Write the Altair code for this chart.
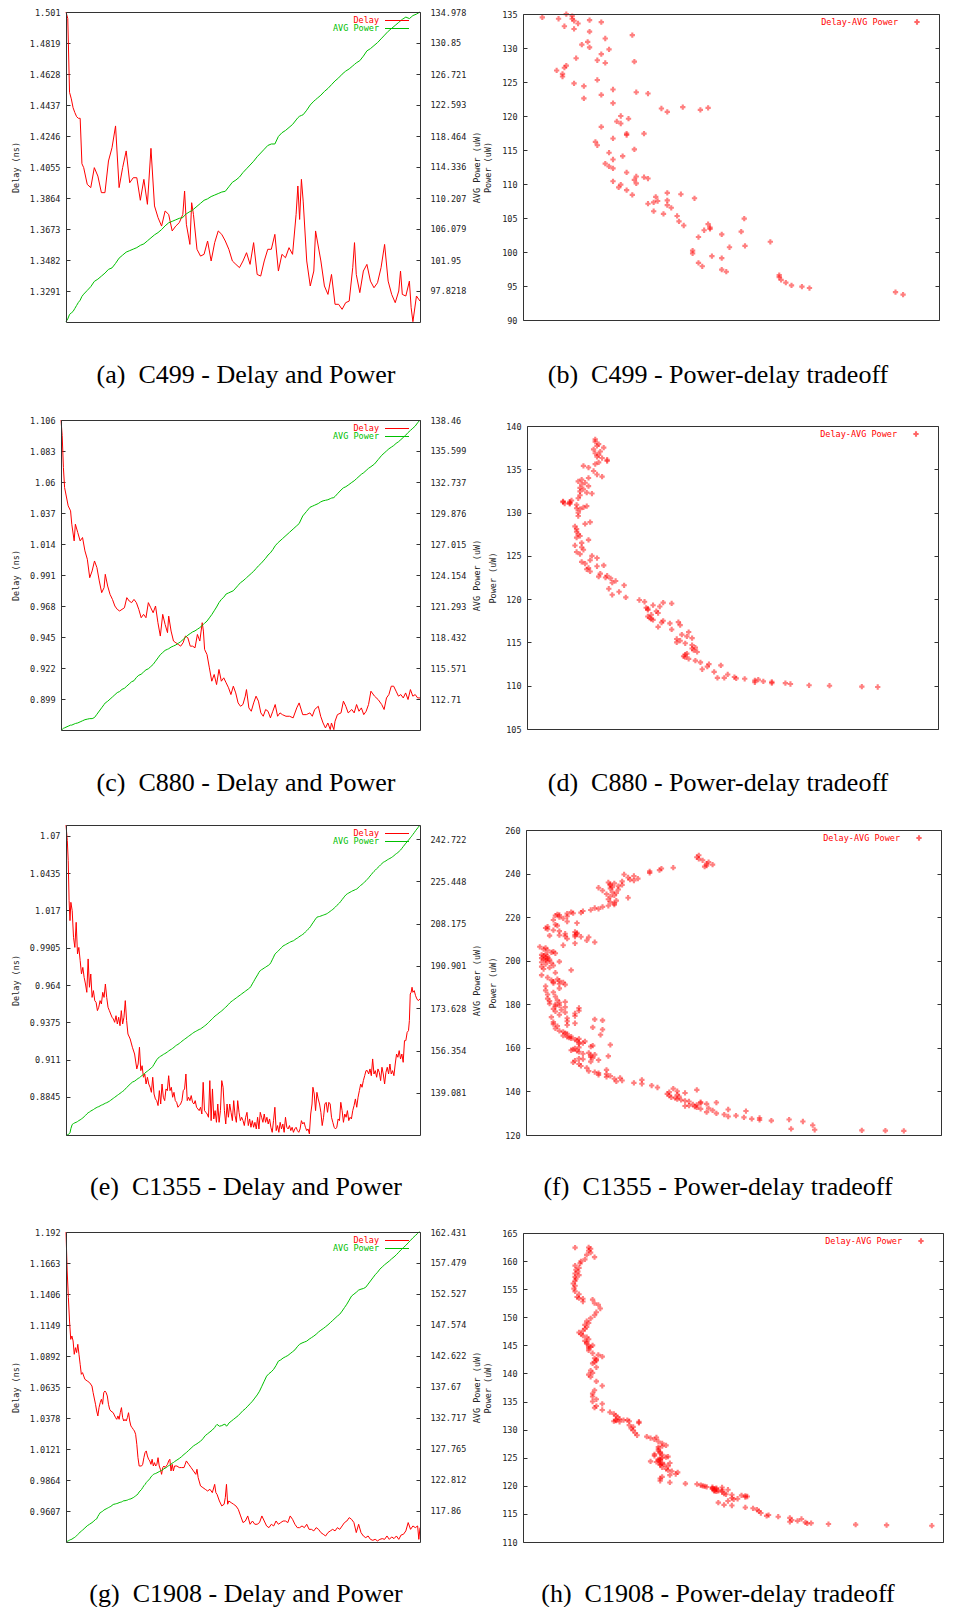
import altair as alt
import pandas as pd

# ---------------- values ----------------
# (a)/(b) C499
A_IT = [0, 1, 2, 3, 4, 5, 6, 7, 8, 9,
        10, 12, 14, 16, 18, 20, 22, 24, 26, 28,
        30, 32, 34, 36, 38, 40, 42, 44, 46, 48,
        50, 52, 54, 56, 58, 60, 62, 64, 66, 67,
        68, 70, 71, 72, 74, 76, 78, 80, 82, 84,
        86, 88, 90, 92, 94, 96, 98, 100, 102, 104,
        106, 108, 110, 112, 114, 116, 118, 120, 122, 124,
        126, 128, 130, 131, 132, 133, 134, 136, 138, 140,
        141, 142, 144, 146, 148, 150, 152, 154, 156, 158,
        160, 162, 163, 164, 166, 168, 170, 172, 174, 176,
        178, 180, 182, 184, 186, 188, 189, 190, 192, 194,
        195, 196, 198, 200]
A_DELAY = [1.5010, 1.4970, 1.4515, 1.4475, 1.4420, 1.4390, 1.4365, 1.4355, 1.4355, 1.4075,
           1.4051, 1.3948, 1.3928, 1.4051, 1.3999, 1.3897, 1.3897, 1.4092, 1.4174, 1.4308,
           1.3928, 1.4051, 1.4154, 1.3958, 1.3989, 1.3989, 1.3850, 1.3979, 1.3825, 1.4170,
           1.3815, 1.3743, 1.3691, 1.3784, 1.3763, 1.3661, 1.3691, 1.3712, 1.3763, 1.3907,
           1.3702, 1.3578, 1.3835, 1.3763, 1.3548, 1.3506, 1.3517, 1.3599, 1.3476, 1.3589,
           1.3661, 1.3640, 1.3599, 1.3548, 1.3476, 1.3455, 1.3435, 1.3476, 1.3527, 1.3455,
           1.3589, 1.3393, 1.3383, 1.3476, 1.3548, 1.3548, 1.3640, 1.3414, 1.3517, 1.3496,
           1.3558, 1.3517, 1.3763, 1.3938, 1.3732, 1.3979, 1.3845, 1.3476, 1.3322, 1.3414,
           1.3661, 1.3599, 1.3476, 1.3322, 1.3270, 1.3393, 1.3209, 1.3209, 1.3178, 1.3219,
           1.3229, 1.3435, 1.3589, 1.3393, 1.3281, 1.3414, 1.3455, 1.3352, 1.3311, 1.3342,
           1.3435, 1.3578, 1.3352, 1.3270, 1.3219, 1.3291, 1.3414, 1.3270, 1.3260, 1.3352,
           1.3188, 1.3102, 1.3260, 1.3229]
A_POWER = [93.74, 94.1, 94.7, 94.9, 95.1, 95.5, 95.9, 96.3, 96.6, 97.1,
           97.4, 97.9, 98.4, 99.1, 99.4, 99.8, 100.2, 100.7, 100.9, 101.5,
           102.2, 102.6, 103.0, 103.2, 103.4, 103.6, 103.9, 104.1, 104.5, 104.9,
           105.3, 105.6, 106.0, 106.5, 106.9, 107.1, 107.3, 107.5, 107.6, 107.9,
           108.1, 108.4, 108.5, 108.7, 109.1, 109.5, 109.9, 110.1, 110.4, 110.6,
           110.8, 111.0, 111.1, 111.7, 112.3, 112.6, 113.0, 113.6, 114.1, 114.6,
           115.1, 115.7, 116.2, 116.7, 117.2, 117.4, 117.4, 118.4, 118.9, 119.2,
           119.6, 120.0, 120.6, 120.9, 121.1, 121.2, 121.3, 121.9, 122.6, 123.1,
           123.3, 123.5, 123.9, 124.4, 124.8, 125.3, 125.8, 126.2, 126.7, 127.1,
           127.4, 127.8, 128.0, 128.2, 128.5, 129.1, 129.8, 130.1, 130.5, 130.9,
           131.4, 131.9, 132.4, 132.8, 133.2, 133.6, 133.8, 134.0, 134.3, 134.1,
           134.3, 134.5, 134.7, 134.98]

# (c)/(d) C880
C_IT = [0, 1, 2, 3, 6, 8, 9, 11, 12, 14,
        16, 18, 20, 22, 24, 26, 28, 30, 32, 34,
        36, 37, 39, 41, 43, 45, 47, 49, 51, 53,
        55, 57, 59, 61, 63, 65, 67, 69, 71, 73,
        75, 77, 79, 81, 83, 85, 87, 89, 90, 92,
        94, 96, 98, 100, 102, 104, 106, 108, 110, 112,
        114, 116, 118, 119, 120, 122, 124, 126, 128, 130,
        132, 134, 136, 138, 140, 142, 144, 146, 148, 150,
        152, 154, 155, 157, 159, 161, 163, 165, 167, 169,
        171, 173, 175, 177, 179, 181, 183, 185, 188, 191,
        194, 197, 199, 202, 205, 208, 210, 212, 215, 217,
        219, 221, 223, 225, 226, 228, 229, 231, 234, 236,
        238, 240, 243, 245, 247, 249, 251, 253, 255, 257,
        259, 262, 265, 268, 270, 272, 274, 276, 278, 280,
        282, 284, 286, 288, 290, 292, 294, 296, 298, 300]
C_DELAY = [1.1060, 1.0944, 1.0708, 1.0559, 1.0423, 1.0386, 1.0287, 1.0163, 1.0287, 1.0225,
           1.0163, 1.0188, 1.0089, 1.0027, 0.9890, 0.9940, 1.0014, 0.9965, 0.9866, 0.9779,
           0.9816, 0.9915, 0.9828, 0.9766, 0.9729, 0.9680, 0.9655, 0.9643, 0.9655, 0.9667,
           0.9742, 0.9717, 0.9705, 0.9729, 0.9705, 0.9655, 0.9593, 0.9618, 0.9593, 0.9705,
           0.9667, 0.9630, 0.9680, 0.9556, 0.9457, 0.9618, 0.9543, 0.9482, 0.9605, 0.9494,
           0.9420, 0.9407, 0.9395, 0.9382, 0.9407, 0.9457, 0.9444, 0.9382, 0.9382, 0.9370,
           0.9469, 0.9420, 0.9556, 0.9494, 0.9358, 0.9320, 0.9221, 0.9122, 0.9172, 0.9097,
           0.9209, 0.9122, 0.9147, 0.9110, 0.9073, 0.9023, 0.9085, 0.9035, 0.8961, 0.8936,
           0.8949, 0.9011, 0.9060, 0.8924, 0.8899, 0.8961, 0.9011, 0.8974, 0.8887, 0.8862,
           0.8912, 0.8899, 0.8850, 0.8899, 0.8949, 0.8862, 0.8887, 0.8874, 0.8862, 0.8862,
           0.8850, 0.8924, 0.8961, 0.8874, 0.8874, 0.8887, 0.8862, 0.8912, 0.8936, 0.8862,
           0.8812, 0.8775, 0.8812, 0.8763, 0.8812, 0.8763, 0.8825, 0.8874, 0.8887, 0.8974,
           0.8936, 0.8887, 0.8912, 0.8887, 0.8949, 0.8899, 0.8924, 0.8874, 0.8899, 0.8949,
           0.9048, 0.9011, 0.8986, 0.8949, 0.8912, 0.8998, 0.9023, 0.9085, 0.9085, 0.9048,
           0.9011, 0.9023, 0.8998, 0.9035, 0.8986, 0.9060, 0.9011, 0.9023, 0.8998, 0.8998]
C_POWER = [109.85, 109.9, 110.0, 110.05, 110.2, 110.3, 110.3, 110.4, 110.45, 110.5,
           110.6, 110.7, 110.8, 110.85, 110.9, 110.9, 111.0, 111.3, 111.6, 111.9,
           112.2, 112.35, 112.5, 112.7, 112.9, 113.1, 113.3, 113.4, 113.6, 113.7,
           113.9, 114.1, 114.3, 114.4, 114.7, 114.9, 115.0, 115.2, 115.4, 115.5,
           115.7, 115.9, 116.2, 116.5, 116.8, 117.0, 117.2, 117.3, 117.35, 117.5,
           117.6, 117.7, 117.85, 118.0, 118.2, 118.4, 118.6, 118.75, 118.9, 119.0,
           119.15, 119.3, 119.5, 119.6, 119.7, 119.9, 120.2, 120.5, 120.85, 121.2,
           121.6, 121.9, 122.1, 122.4, 122.5, 122.6, 122.7, 122.95, 123.2, 123.45,
           123.6, 123.8, 123.9, 124.1, 124.3, 124.5, 124.75, 125.0, 125.2, 125.45,
           125.7, 126.0, 126.2, 126.5, 126.85, 127.1, 127.3, 127.5, 127.8, 128.1,
           128.4, 128.7, 128.9, 129.6, 130.0, 130.4, 130.5, 130.6, 130.75, 130.9,
           131.0, 131.05, 131.1, 131.2, 131.25, 131.3, 131.4, 131.65, 132.0, 132.2,
           132.3, 132.45, 132.7, 132.85, 133.05, 133.25, 133.45, 133.6, 133.8, 134.0,
           134.15, 134.4, 134.8, 135.2, 135.4, 135.6, 135.8, 135.95, 136.1, 136.3,
           136.45, 136.65, 136.85, 137.05, 137.3, 137.5, 137.7, 137.9, 138.2, 138.46]

# (e)/(f) C1355
E_IT = [0, 3, 5, 7, 9, 11, 14, 17, 20, 23,
        26, 29, 32, 35, 38, 41, 44, 47, 50, 53,
        56, 59, 62, 65, 68, 71, 74, 77, 80, 83,
        86, 89, 92, 95, 98, 101, 104, 107, 110, 113,
        116, 119, 122, 125, 128, 131, 134, 137, 140, 145,
        150, 155, 160, 163, 166, 169, 172, 175, 178, 181,
        184, 187, 190, 193, 196, 199, 202, 205, 208, 211,
        214, 217, 220, 223, 226, 229, 232, 235, 238, 241,
        244, 247, 250, 253, 256, 259, 262, 265, 268, 271,
        274, 277, 280, 283, 286, 289, 292, 295, 298, 301,
        304, 307, 310, 313, 316, 319, 322, 325, 328, 331,
        334, 337, 340, 343, 346, 349, 352, 355, 358, 361,
        364, 367, 370, 373, 376, 379, 382, 385, 388, 391,
        394, 397, 400, 403, 406, 409, 412, 415, 418, 421,
        424, 427, 430, 433, 436, 439, 442, 445, 448, 451,
        454, 457, 460, 463, 466, 469, 472, 475, 478, 481,
        484, 487, 490, 493, 496, 499, 502, 505, 508, 511,
        514, 517, 520, 523, 526, 529, 532, 535, 538, 541,
        544, 547, 550, 553, 556, 558, 561, 564, 567, 570,
        573, 576, 579, 582, 585, 588, 591, 594, 597, 600,
        603, 606, 609, 612, 615, 618, 621, 624, 627, 630,
        633, 636, 639, 642, 645, 648, 651, 654, 657, 660,
        663, 666, 669, 672, 675, 678, 681, 684, 687, 690,
        693, 696, 699, 702, 705, 708, 711, 714, 717, 720,
        723, 726, 729, 732, 735, 738, 741, 744, 747, 750,
        753, 756, 759, 762, 765, 768, 771, 774, 776, 778,
        780, 782, 784, 787, 790, 793, 796, 800]
E_DELAY = [1.0776, 1.0665, 1.0523, 1.0239, 1.0097, 1.0227, 1.0168, 0.9978, 0.9907, 1.0085,
           0.9860, 0.9907, 0.9813, 0.9718, 0.9765, 0.9694, 0.9647, 0.9588, 0.9825, 0.9624,
           0.9718, 0.9552, 0.9600, 0.9529, 0.9517, 0.9458, 0.9482, 0.9529, 0.9505, 0.9588,
           0.9552, 0.9647, 0.9552, 0.9482, 0.9458, 0.9434, 0.9411, 0.9399, 0.9375, 0.9422,
           0.9363, 0.9411, 0.9351, 0.9458, 0.9363, 0.9411, 0.9529, 0.9387, 0.9292, 0.9257,
           0.9198, 0.9150, 0.9044, 0.9079, 0.9198, 0.9032, 0.9067, 0.8985, 0.9008, 0.8937,
           0.8985, 0.8937, 0.8914, 0.8878, 0.8985, 0.8866, 0.8831, 0.8819, 0.8784, 0.8890,
           0.8795, 0.8937, 0.8843, 0.8819, 0.8902, 0.8890, 0.8996, 0.8890, 0.8914, 0.8843,
           0.8878, 0.8819, 0.8807, 0.8772, 0.8784, 0.8795, 0.8819, 0.8890, 0.8902, 0.9008,
           0.8819, 0.8843, 0.8819, 0.8855, 0.8807, 0.8795, 0.8819, 0.8772, 0.8760, 0.8748,
           0.8772, 0.8724, 0.8949, 0.8748, 0.8736, 0.8724, 0.8701, 0.8961, 0.8677, 0.8902,
           0.8689, 0.8748, 0.8665, 0.8795, 0.8665, 0.8748, 0.8961, 0.8914, 0.8748, 0.8653,
           0.8795, 0.8701, 0.8795, 0.8736, 0.8677, 0.8819, 0.8713, 0.8665, 0.8819, 0.8736,
           0.8677, 0.8701, 0.8677, 0.8642, 0.8701, 0.8736, 0.8642, 0.8689, 0.8630, 0.8677,
           0.8630, 0.8665, 0.8618, 0.8701, 0.8618, 0.8736, 0.8701, 0.8665, 0.8724, 0.8665,
           0.8701, 0.8653, 0.8689, 0.8630, 0.8594, 0.8677, 0.8772, 0.8606, 0.8642, 0.8594,
           0.8665, 0.8618, 0.8653, 0.8594, 0.8701, 0.8630, 0.8618, 0.8642, 0.8606, 0.8630,
           0.8594, 0.8618, 0.8630, 0.8606, 0.8594, 0.8618, 0.8677, 0.8653, 0.8665, 0.8630,
           0.8606, 0.8618, 0.8583, 0.8724, 0.8795, 0.8914, 0.8866, 0.8748, 0.8878, 0.8831,
           0.8795, 0.8736, 0.8642, 0.8701, 0.8795, 0.8807, 0.8736, 0.8807, 0.8795, 0.8701,
           0.8665, 0.8630, 0.8618, 0.8630, 0.8689, 0.8677, 0.8807, 0.8748, 0.8665, 0.8724,
           0.8701, 0.8748, 0.8677, 0.8701, 0.8689, 0.8748, 0.8784, 0.8831, 0.8772, 0.8843,
           0.8890, 0.8937, 0.8914, 0.8961, 0.8996, 0.9032, 0.9032, 0.9008, 0.9044, 0.8996,
           0.9115, 0.9008, 0.9032, 0.8985, 0.9044, 0.9020, 0.8961, 0.9056, 0.9008, 0.8937,
           0.9020, 0.9056, 0.9008, 0.9079, 0.9008, 0.9032, 0.8996, 0.9079, 0.9150, 0.9127,
           0.9174, 0.9115, 0.9150, 0.9091, 0.9245, 0.9245, 0.9304, 0.9316, 0.9387, 0.9576,
           0.9588, 0.9624, 0.9588, 0.9600, 0.9564, 0.9541, 0.9529, 0.9541]
E_POWER = [121.9, 122.0, 122.1, 122.4, 122.8, 124.5, 126.2, 126.6, 126.9, 127.1,
           127.4, 127.8, 128.1, 128.5, 128.9, 129.4, 129.9, 130.5, 131.0, 131.3,
           131.7, 132.0, 132.3, 132.7, 133.0, 133.3, 133.5, 133.8, 134.1, 134.3,
           134.6, 134.9, 135.1, 135.4, 135.7, 136.1, 136.5, 136.9, 137.3, 137.7,
           138.1, 138.5, 138.9, 139.3, 139.7, 140.1, 140.7, 141.3, 141.8, 142.7,
           143.5, 143.9, 144.6, 145.0, 145.3, 145.8, 146.2, 146.7, 147.1, 147.6,
           148.0, 148.4, 148.9, 149.3, 149.9, 150.8, 151.7, 152.6, 153.3, 153.7,
           154.1, 154.4, 154.8, 155.1, 155.4, 155.8, 156.2, 156.6, 156.9, 157.3,
           157.7, 158.2, 158.6, 158.9, 159.3, 159.7, 160.2, 160.6, 161.0, 161.4,
           161.8, 162.2, 162.6, 163.0, 163.4, 163.8, 164.1, 164.4, 164.7, 165.0,
           165.2, 165.6, 166.0, 166.4, 166.8, 167.3, 167.8, 168.4, 168.9, 169.4,
           170.0, 170.5, 170.9, 171.3, 171.8, 172.2, 172.6, 173.1, 173.6, 174.1,
           174.6, 175.2, 175.8, 176.3, 176.7, 177.1, 177.5, 177.9, 178.3, 178.7,
           179.1, 179.5, 179.9, 180.3, 180.7, 181.1, 181.5, 181.9, 182.6, 183.6,
           184.5, 185.5, 186.4, 187.3, 188.3, 189.0, 189.4, 189.7, 190.1, 190.4,
           190.8, 191.1, 191.5, 192.3, 193.4, 194.5, 195.7, 196.2, 196.8, 197.3,
           197.8, 198.4, 199.0, 199.3, 199.6, 199.9, 200.2, 200.5, 200.8, 201.0,
           201.2, 201.6, 202.0, 202.3, 202.7, 203.1, 203.4, 203.8, 204.2, 204.8,
           205.3, 205.9, 206.4, 207.1, 208.0, 208.5, 209.3, 210.1, 210.8, 211.0,
           211.1, 211.3, 211.5, 211.7, 211.9, 212.1, 212.4, 212.8, 213.2, 213.6,
           214.0, 214.5, 215.0, 215.6, 216.1, 216.6, 217.3, 218.0, 218.7, 219.4,
           220.0, 220.4, 220.7, 221.0, 221.3, 221.6, 221.8, 222.1, 222.3, 222.8,
           223.3, 223.8, 224.2, 224.7, 225.2, 225.7, 226.3, 226.9, 227.6, 228.2,
           228.9, 229.5, 230.0, 230.6, 231.1, 231.6, 232.2, 232.7, 233.2, 233.5,
           233.8, 234.2, 234.5, 234.8, 235.1, 235.5, 235.9, 236.4, 236.8, 237.2,
           237.7, 238.2, 238.9, 239.6, 240.3, 241.0, 241.6, 242.3, 242.7, 243.2,
           243.6, 244.1, 244.6, 245.3, 246.1, 246.8, 247.5, 248.4]

# (g)/(h) C1908
G_IT = [0, 1, 2, 3, 4, 5, 6, 7, 8, 9,
        10, 11, 12, 13, 14, 16, 18, 20, 22, 23,
        25, 26, 27, 28, 29, 30, 31, 32, 33, 34,
        35, 36, 37, 38, 40, 42, 43, 44, 45, 46,
        47, 48, 49, 50, 51, 52, 53, 54, 55, 56,
        57, 58, 59, 60, 61, 62, 64, 65, 66, 67,
        68, 69, 70, 71, 72, 73, 74, 75, 76, 77,
        78, 79, 80, 81, 82, 83, 84, 85, 86, 87,
        88, 89, 90, 91, 92, 94, 96, 98, 100, 101,
        102, 104, 106, 108, 110, 111, 112, 114, 116, 118,
        120, 122, 124, 126, 127, 128, 130, 132, 134, 135,
        136, 137, 138, 140, 142, 144, 146, 148, 150, 152,
        154, 156, 158, 160, 162, 164, 166, 168, 170, 172,
        174, 176, 178, 180, 182, 184, 186, 188, 190, 192,
        194, 196, 198, 200, 202, 204, 206, 208, 210, 212,
        214, 216, 218, 220, 222, 224, 226, 228, 230, 232,
        234, 236, 238, 240, 242, 244, 246, 248, 250, 252,
        254, 256, 258, 260, 262, 264, 266, 268, 270, 272,
        274, 276, 278, 280, 282, 284, 286, 288, 290, 292,
        294, 296, 298, 299, 300]
G_DELAY = [1.1920, 1.1597, 1.1376, 1.1182, 1.1030, 1.1058, 1.1017, 1.0906, 1.0961, 1.0920,
           1.0989, 1.0906, 1.0823, 1.0740, 1.0754, 1.0699, 1.0685, 1.0671, 1.0643, 1.0588,
           1.0492, 1.0436, 1.0395, 1.0464, 1.0505, 1.0533, 1.0492, 1.0588, 1.0602, 1.0588,
           1.0561, 1.0492, 1.0450, 1.0436, 1.0422, 1.0381, 1.0367, 1.0395, 1.0367, 1.0422,
           1.0464, 1.0381, 1.0353, 1.0367, 1.0353, 1.0381, 1.0422, 1.0353, 1.0312, 1.0298,
           1.0284, 1.0270, 1.0243, 1.0160, 1.0049, 0.9980, 0.9980, 0.9994, 1.0049, 1.0091,
           1.0105, 1.0063, 1.0036, 1.0022, 0.9994, 1.0036, 0.9980, 1.0008, 0.9980, 0.9994,
           1.0049, 0.9980, 0.9953, 0.9911, 0.9967, 0.9980, 0.9967, 0.9980, 0.9994, 1.0022,
           1.0036, 0.9939, 0.9994, 0.9939, 0.9980, 0.9980, 0.9967, 0.9967, 0.9967, 0.9994,
           1.0022, 0.9994, 0.9967, 0.9939, 0.9911, 0.9953, 0.9884, 0.9815, 0.9801, 0.9787,
           0.9773, 0.9787, 0.9759, 0.9828, 0.9759, 0.9745, 0.9690, 0.9649, 0.9663, 0.9718,
           0.9828, 0.9663, 0.9690, 0.9676, 0.9663, 0.9649, 0.9621, 0.9566, 0.9511, 0.9524,
           0.9566, 0.9497, 0.9524, 0.9497, 0.9497, 0.9511, 0.9566, 0.9524, 0.9483, 0.9469,
           0.9497, 0.9483, 0.9524, 0.9497, 0.9511, 0.9524, 0.9524, 0.9511, 0.9566, 0.9538,
           0.9497, 0.9469, 0.9469, 0.9483, 0.9469, 0.9497, 0.9455, 0.9455, 0.9442, 0.9469,
           0.9455, 0.9428, 0.9414, 0.9400, 0.9428, 0.9442, 0.9455, 0.9442, 0.9469, 0.9455,
           0.9483, 0.9511, 0.9524, 0.9552, 0.9538, 0.9511, 0.9428, 0.9497, 0.9428, 0.9400,
           0.9386, 0.9400, 0.9372, 0.9364, 0.9372, 0.9359, 0.9372, 0.9378, 0.9372, 0.9400,
           0.9372, 0.9392, 0.9378, 0.9400, 0.9372, 0.9408, 0.9414, 0.9442, 0.9511, 0.9455,
           0.9483, 0.9469, 0.9483, 0.9372, 0.9469]
G_POWER = [112.9, 113.0, 113.1, 113.2, 113.3, 113.35, 113.5, 113.6, 113.75, 113.9,
           114.1, 114.3, 114.5, 114.65, 114.8, 115.15, 115.5, 115.75, 116.0, 116.15,
           116.5, 116.6, 117.0, 117.3, 117.6, 117.7, 117.8, 118.0, 118.1, 118.2,
           118.3, 118.4, 118.5, 118.6, 118.9, 119.0, 119.05, 119.1, 119.2, 119.25,
           119.3, 119.4, 119.5, 119.5, 119.55, 119.6, 119.7, 119.75, 119.8, 119.9,
           120.0, 120.1, 120.3, 120.4, 120.6, 120.9, 121.3, 121.6, 121.9, 122.1,
           122.4, 122.6, 122.8, 123.0, 123.3, 123.5, 123.7, 123.8, 123.85, 123.95,
           124.05, 124.15, 124.25, 124.35, 124.45, 124.6, 124.7, 124.8, 124.95, 125.1,
           125.2, 125.35, 125.5, 125.6, 125.75, 126.0, 126.25, 126.55, 126.9, 127.05,
           127.2, 127.55, 127.9, 128.25, 128.5, 128.6, 128.75, 129.0, 129.4, 129.9,
           130.2, 130.5, 130.8, 131.2, 131.5, 131.7, 131.4, 131.5, 131.7, 131.7,
           131.4, 131.6, 131.9, 132.2, 132.5, 132.8, 133.1, 133.5, 133.9, 134.2,
           134.6, 135.0, 135.4, 135.9, 136.4, 137.0, 137.8, 138.6, 139.4, 139.8,
           140.1, 140.5, 141.1, 141.8, 142.0, 142.3, 142.5, 142.7, 143.0, 143.3,
           143.6, 144.1, 144.5, 144.7, 144.85, 145.0, 145.3, 145.55, 145.8, 146.1,
           146.45, 146.75, 147.0, 147.3, 147.6, 147.95, 148.3, 148.65, 149.0, 149.3,
           149.8, 150.35, 150.9, 151.55, 152.2, 152.5, 152.8, 153.15, 153.3, 153.4,
           153.6, 154.1, 154.6, 155.1, 155.6, 156.0, 156.5, 156.85, 157.2, 157.5,
           157.8, 158.15, 158.45, 158.8, 159.2, 159.6, 159.95, 160.3, 160.7, 161.1,
           161.5, 161.85, 162.2, 162.4, 162.43]

# axis domains and tick labels
A_X_DOM, A_X_TICKS = [0, 200], [0, 20, 40, 60, 80, 100, 120, 140, 160, 180, 200]
A_D_DOM = [1.3100, 1.501]
A_D_TICKS = [1.501, 1.4819, 1.4628, 1.4437, 1.4246, 1.4055, 1.3864, 1.3673, 1.3482, 1.3291]
A_P_DOM = [93.693, 134.978]
A_P_TICKS = [134.978, 130.85, 126.721, 122.593, 118.464, 114.336, 110.207, 106.079, 101.95, 97.8218]

C_X_DOM, C_X_TICKS = [0, 300], [0, 50, 100, 150, 200, 250, 300]
C_D_DOM = [0.876, 1.106]
C_D_TICKS = [1.106, 1.083, 1.06, 1.037, 1.014, 0.991, 0.968, 0.945, 0.922, 0.899]
C_P_DOM = [109.849, 138.46]
C_P_TICKS = [138.46, 135.599, 132.737, 129.876, 127.015, 124.154, 121.293, 118.432, 115.571, 112.71]

E_X_DOM, E_X_TICKS = [0, 800], [0, 100, 200, 300, 400, 500, 600, 700, 800]
E_D_DOM = [0.8575, 1.0776]
E_D_TICKS = [1.07, 1.0435, 1.017, 0.9905, 0.964, 0.9375, 0.911, 0.8845]
E_P_DOM = [121.92, 248.44]
E_P_TICKS = [242.722, 225.448, 208.175, 190.901, 173.628, 156.354, 139.081]

G_X_DOM, G_X_TICKS = [0, 300], [0, 50, 100, 150, 200, 250, 300]
G_D_DOM = [0.935, 1.192]
G_D_TICKS = [1.192, 1.1663, 1.1406, 1.1149, 1.0892, 1.0635, 1.0378, 1.0121, 0.9864, 0.9607]
G_P_DOM = [112.907, 162.431]
G_P_TICKS = [162.431, 157.479, 152.527, 147.574, 142.622, 137.67, 132.717, 127.765, 122.812, 117.86]

B_X_DOM, B_X_TICKS = [1.3, 1.52], [1.3, 1.32, 1.34, 1.36, 1.38, 1.4, 1.42, 1.44, 1.46, 1.48, 1.5, 1.52]
B_Y_DOM, B_Y_TICKS = [90, 135], [90, 95, 100, 105, 110, 115, 120, 125, 130, 135]
D_X_DOM, D_X_TICKS = [0.85, 1.15], [0.85, 0.9, 0.95, 1, 1.05, 1.1, 1.15]
D_Y_DOM, D_Y_TICKS = [105, 140], [105, 110, 115, 120, 125, 130, 135, 140]
F_X_DOM, F_X_TICKS = [0.85, 1.1], [0.85, 0.9, 0.95, 1, 1.05, 1.1]
F_Y_DOM, F_Y_TICKS = [120, 260], [120, 140, 160, 180, 200, 220, 240, 260]
H_X_DOM, H_X_TICKS = [0.9, 1.2], [0.9, 0.95, 1, 1.05, 1.1, 1.15, 1.2]
H_Y_DOM, H_Y_TICKS = [110, 165], [110, 115, 120, 125, 130, 135, 140, 145, 150, 155, 160, 165]

CAPTIONS = ["(a)\u00a0\u00a0C499 - Delay and Power", "(b)\u00a0\u00a0C499 - Power-delay tradeoff",
            "(c)\u00a0\u00a0C880 - Delay and Power", "(d)\u00a0\u00a0C880 - Power-delay tradeoff",
            "(e)\u00a0\u00a0C1355 - Delay and Power", "(f)\u00a0\u00a0C1355 - Power-delay tradeoff",
            "(g)\u00a0\u00a0C1908 - Delay and Power", "(h)\u00a0\u00a0C1908 - Power-delay tradeoff"]
LEGEND_LINES = ["Delay", "AVG Power"]
LEGEND_SCATTER = ["Delay-AVG Power"]

# ---------------- layout / style ----------------
FONT = "DejaVu Sans Mono"
SERIF = "Liberation Serif"
FS = 8.5
NUM_FMT = ".6~g"
RED = "#ff0000"
GREEN = "#00c000"
INK = "#222222"
COL_X = [61, 523]
ROW_Y = [11, 418, 825, 1232]
CW, CH = 420, 311
PT_SIZE = 28


def one(col, val):
    return pd.DataFrame({col: [val]})


def text_layer(txt, x, y, color, font=FONT, size=FS, align="right", baseline="middle"):
    return alt.Chart(one("t", txt)).mark_text(
        align=align, baseline=baseline, font=font, fontSize=size, color=color
    ).encode(text="t:N", x=alt.value(x), y=alt.value(y))


def rule_layer(x1, x2, y, color):
    return alt.Chart(one("r", 0)).mark_rule(color=color, strokeWidth=1).encode(
        x=alt.value(x1), x2=alt.value(x2), y=alt.value(y))


def frame_layer(xl, xr, yt, yb):
    return alt.Chart(one("f", 0)).mark_rect(fillOpacity=0, stroke="#333333", strokeWidth=1).encode(
        x=alt.value(xl + 0.5), x2=alt.value(xr + 0.5), y=alt.value(yt + 0.5), y2=alt.value(yb + 0.5))


def caption_layer(txt, cap_x, cap_base, cx, cy):
    return text_layer(txt, cap_x - cx, cap_base - cy, "#000000", font=SERIF, size=26,
                      align="center", baseline="alphabetic")


def dual_panel(it, delay, power, xdom, xticks, ddom, dticks, pdom, pticks,
               rect, col, row, caption, cap_x, cap_base, anchor=False):
    L, T, R, B = rect
    cx, cy = COL_X[col], ROW_Y[row]
    xl, xr, yt, yb = L - cx, R - cx, T - cy, B - cy
    n = min(len(it), len(delay), len(power))
    df = pd.DataFrame({"it": it[:n], "delay": delay[:n], "power": power[:n]})
    xscale = alt.Scale(domain=xdom, range=[xl, xr], nice=False, zero=False)
    xaxis = alt.Axis(orient="bottom", values=xticks, format="d", offset=(yb - 4) - CH,
                     tickSize=4, labelPadding=4, title="Iterations",
                     titleX=(xl + xr) / 2, titleY=25, titleAngle=0,
                     titleAlign="center", titleBaseline="middle")
    daxis = alt.Axis(orient="left", values=dticks, format=NUM_FMT, offset=-(xl + 4),
                     tickSize=4, labelPadding=6, title="Delay (ns)",
                     titleX=15 - L - 4, titleY=(yt + yb) / 2, titleAngle=270,
                     titleAlign="center", titleBaseline="middle")
    paxis = alt.Axis(orient="right", values=pticks, format=NUM_FMT, offset=(xr - 4) - CW,
                     tickSize=4, labelPadding=10, title="AVG Power (uW)",
                     titleX=476 - R + 4, titleY=(yt + yb) / 2, titleAngle=270,
                     titleAlign="center", titleBaseline="middle")
    base = alt.Chart(df)
    dline = base.mark_line(color=RED, strokeWidth=1).encode(
        x=alt.X("it:Q", scale=xscale, axis=xaxis),
        y=alt.Y("delay:Q", scale=alt.Scale(domain=ddom, range=[yb, yt], nice=False, zero=False), axis=daxis))
    pline = base.mark_line(color=GREEN, strokeWidth=1).encode(
        x=alt.X("it:Q", scale=xscale, axis=None),
        y=alt.Y("power:Q", scale=alt.Scale(domain=pdom, range=[yb, yt], nice=False, zero=False), axis=paxis))
    layers = [dline, pline, frame_layer(xl, xr, yt, yb),
              text_layer(LEGEND_LINES[0], xr - 41, yt + 8, RED),
              rule_layer(xr - 35, xr - 11, yt + 8.5, RED),
              text_layer(LEGEND_LINES[1], xr - 41, yt + 16, GREEN),
              rule_layer(xr - 35, xr - 11, yt + 16.5, GREEN),
              caption_layer(caption, cap_x, cap_base, cx, cy)]
    if anchor:
        layers.append(alt.Chart(one("a", 0)).mark_rect(opacity=0).encode(
            x=alt.value(8 - cx), x2=alt.value(9 - cx), y=alt.value(8 - cy), y2=alt.value(9 - cy)))
    return alt.layer(*layers).resolve_scale(y="independent").properties(width=CW, height=CH)


def scatter_panel(delay, power, xdom, xticks, ydom, yticks, rect, col, row, caption,
                  cap_x, cap_base, xtitle, ytitle_px, xtitle_dy):
    L, T, R, B = rect
    cx, cy = COL_X[col], ROW_Y[row]
    xl, xr, yt, yb = L - cx, R - cx, T - cy, B - cy
    n = min(len(delay), len(power))
    df = pd.DataFrame({"delay": delay[:n], "power": power[:n]})
    xscale = alt.Scale(domain=xdom, range=[xl, xr], nice=False, zero=False)
    yscale = alt.Scale(domain=ydom, range=[yb, yt], nice=False, zero=False)
    xaxis = alt.Axis(orient="bottom", values=xticks, format=NUM_FMT, offset=(yb - 4) - CH,
                     tickSize=4, labelPadding=4, title=xtitle,
                     titleX=(xl + xr) / 2, titleY=xtitle_dy + 4, titleAngle=0,
                     titleAlign="center", titleBaseline="middle")
    yaxis = alt.Axis(orient="left", values=yticks, format="d", offset=-(xl + 4),
                     tickSize=4, labelPadding=6, title="Power (uW)",
                     titleX=ytitle_px - L - 4, titleY=(yt + yb) / 2, titleAngle=270,
                     titleAlign="center", titleBaseline="middle")
    yaxis2 = alt.Axis(orient="right", values=yticks, labels=False, offset=(xr - 4) - CW,
                      tickSize=4, title=None)
    base = alt.Chart(df)
    pts = base.mark_point(shape="cross", filled=True, size=PT_SIZE, color=RED, opacity=0.5).encode(
        x=alt.X("delay:Q", scale=xscale, axis=xaxis),
        y=alt.Y("power:Q", scale=yscale, axis=yaxis))
    mirror = base.mark_point(opacity=0).encode(
        x=alt.X("delay:Q", scale=xscale, axis=None),
        y=alt.Y("power:Q", scale=yscale, axis=yaxis2))
    key = alt.Chart(one("k", 0)).mark_point(shape="cross", filled=True, size=PT_SIZE, color=RED, opacity=0.6).encode(
        x=alt.value(xr - 22), y=alt.value(yt + 8))
    layers = [pts, mirror, frame_layer(xl, xr, yt, yb),
              text_layer(LEGEND_SCATTER[0], xr - 41, yt + 8, RED), key,
              caption_layer(caption, cap_x, cap_base, cx, cy)]
    return alt.layer(*layers).resolve_axis(y="independent").properties(width=CW, height=CH)


pa = dual_panel(A_IT, A_DELAY, A_POWER, A_X_DOM, A_X_TICKS, A_D_DOM, A_D_TICKS, A_P_DOM, A_P_TICKS,
                (66, 11, 420, 321), 0, 0, CAPTIONS[0], 246, 382, anchor=True)
pb = scatter_panel(A_DELAY, A_POWER, B_X_DOM, B_X_TICKS, B_Y_DOM, B_Y_TICKS,
                   (523, 13, 939, 319), 1, 0, CAPTIONS[1], 718, 382, "Delay (ns)", 487, 21)
pc = dual_panel(C_IT, C_DELAY, C_POWER, C_X_DOM, C_X_TICKS, C_D_DOM, C_D_TICKS, C_P_DOM, C_P_TICKS,
                (61, 419, 420, 729), 0, 1, CAPTIONS[2], 246, 790)
pd_ = scatter_panel(C_DELAY, C_POWER, D_X_DOM, D_X_TICKS, D_Y_DOM, D_Y_TICKS,
                    (527, 425, 938, 728), 1, 1, CAPTIONS[3], 718, 790, "Delay (ns)", 492, 20)
pe = dual_panel(E_IT, E_DELAY, E_POWER, E_X_DOM, E_X_TICKS, E_D_DOM, E_D_TICKS, E_P_DOM, E_P_TICKS,
                (66, 824, 420, 1134), 0, 2, CAPTIONS[4], 246, 1194)
pf = scatter_panel(E_DELAY, E_POWER, F_X_DOM, F_X_TICKS, F_Y_DOM, F_Y_TICKS,
                   (526, 829, 941, 1134), 1, 2, CAPTIONS[5], 718, 1194, "Delau (ns)", 492, 20)
pg = dual_panel(G_IT, G_DELAY, G_POWER, G_X_DOM, G_X_TICKS, G_D_DOM, G_D_TICKS, G_P_DOM, G_P_TICKS,
                (66, 1231, 420, 1541), 0, 3, CAPTIONS[6], 246, 1601)
ph = scatter_panel(G_DELAY, G_POWER, H_X_DOM, H_X_TICKS, H_Y_DOM, H_Y_TICKS,
                   (523, 1232, 943, 1541), 1, 3, CAPTIONS[7], 718, 1601, "Delau (ns)", 487, 20)

chart = alt.concat(
    pa, pb, pc, pd_, pe, pf, pg, ph,
    columns=2, spacing={"row": ROW_Y[1] - ROW_Y[0] - CH, "column": COL_X[1] - COL_X[0] - CW},
    bounds="flush", align="each",
).properties(padding=0).configure_view(strokeWidth=0).configure_axis(
    grid=False, domain=False, labelFont=FONT, labelFontSize=FS, labelColor=INK,
    titleFont=FONT, titleFontSize=FS, titleFontWeight="normal", titleColor=INK,
    tickColor="#333333", tickWidth=1, labelFlush=False, labelOverlap=False,
)

chart.save("out.html", embed_options={"renderer": "svg", "actions": False})
